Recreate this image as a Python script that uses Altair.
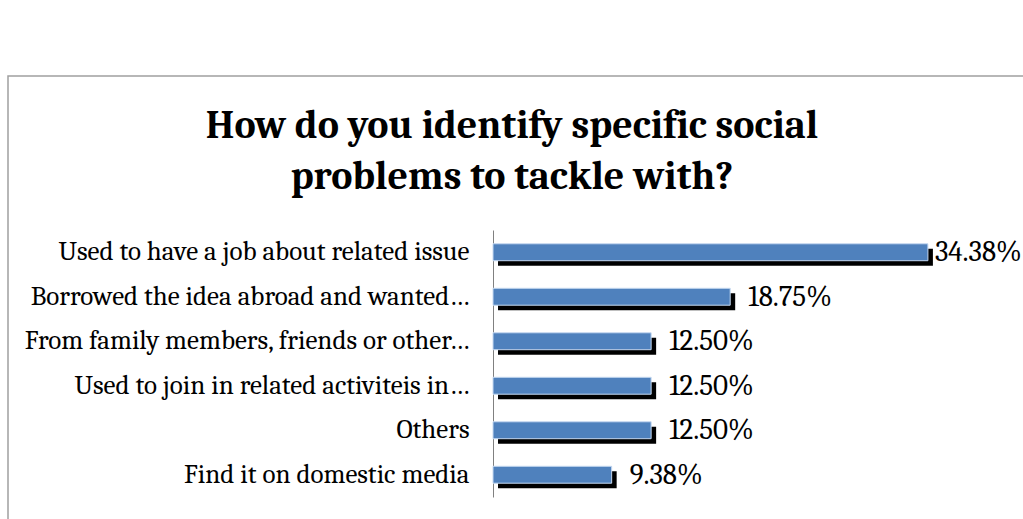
import altair as alt
import pandas as pd

categories = [
    "Used to have a job about related issue",
    "Borrowed the idea abroad and wanted…",
    "From family members, friends or other…",
    "Used to join in related activiteis in…",
    "Others",
    "Find it on domestic media",
]
values = [34.38, 18.75, 12.50, 12.50, 12.50, 9.38]
value_labels = ["34.38%", "18.75%", "12.50%", "12.50%", "12.50%", "9.38%"]
title_lines = ["How do you identify specific social", "problems to tackle with?"]

df = pd.DataFrame({"cat": categories, "val": values, "lab": value_labels})

FONT = "Cambria, Liberation Serif, serif"

y = alt.Y("cat:N", sort=categories,
          scale=alt.Scale(paddingInner=0.62, paddingOuter=0.31),
          axis=alt.Axis(title=None, ticks=False, domain=True, domainColor="#808080",
                        labelFont=FONT, labelFontSize=27, labelColor="#000000",
                        labelPadding=24, labelLimit=480))
x = alt.X("val:Q", scale=alt.Scale(domain=[0, 40]), axis=None)

base = alt.Chart(df)

border = base.mark_rect(fill=None, stroke="#a0a0a0", strokeWidth=1.5).encode(
    x=alt.value(-485), x2=alt.value(700), y=alt.value(-154), y2=alt.value(400)
).transform_filter("datum.cat == 'Others'")

shadow = base.mark_bar(color="black", xOffset=5, x2Offset=5, yOffset=5, y2Offset=5).encode(y=y, x=x)
bars = base.mark_bar(color="#4F81BD", stroke="#C6D9F1", strokeWidth=1).encode(y=y, x=x)
text = base.mark_text(align="left", baseline="middle", dx=18, font=FONT, fontSize=29,
                      color="black").encode(y=y, x=x, text="lab:N").transform_filter("datum.val < 30")
text_top = base.mark_text(align="left", baseline="middle", dx=7, font=FONT, fontSize=29,
                          color="black").encode(y=y, x=x, text="lab:N").transform_filter("datum.val >= 30")

chart = alt.layer(border, shadow, bars, text, text_top).properties(
    width=506, height=267,
    title=alt.TitleParams(title_lines, font=FONT, fontSize=40, fontWeight="bold",
                          color="black", anchor="middle", dx=-234, offset=-122,
                          lineHeight=51, frame="group"),
    autosize=alt.AutoSizeParams(type="none"),
    padding={"left": 493, "top": 230, "right": 24, "bottom": 22},
    background="white",
).configure_view(stroke="transparent", strokeWidth=0)

chart.save("out.html", embed_options={"renderer": "svg", "actions": False})
